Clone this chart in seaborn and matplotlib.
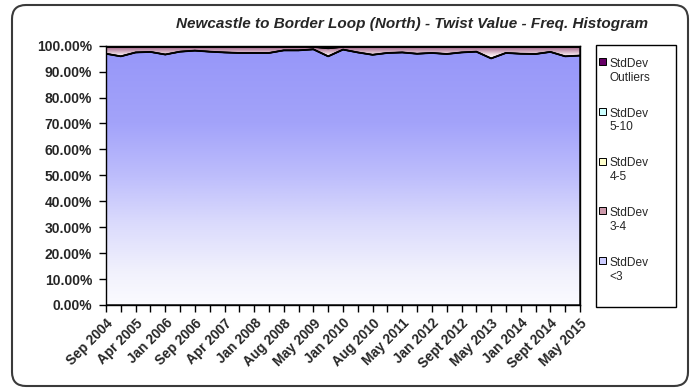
import numpy as np
import pandas as pd
import matplotlib
matplotlib.use("Agg")
import matplotlib.pyplot as plt
import seaborn as sns
from matplotlib.colors import LinearSegmentedColormap
from matplotlib.patches import FancyBboxPatch, Rectangle, Patch
from matplotlib.legend_handler import HandlerPatch

# Share of readings (%) in each standard-deviation band, per survey run
tick_labels = ["Sep 2004", "Apr 2005", "Jan 2006", "Sep 2006", "Apr 2007", "Jan 2008",
               "Aug 2008", "May 2009", "Jan 2010", "Aug 2010", "May 2011", "Jan 2012",
               "Sept 2012", "May 2013", "Jan 2014", "Sept 2014", "May 2015"]

sd_lt3 = [96.9, 95.9, 97.4, 97.6, 96.6, 97.7, 98.1, 97.7, 97.4, 97.2, 97.2, 97.2,
          98.2, 98.2, 98.6, 95.9, 98.5, 97.4, 96.5, 97.2, 97.4, 96.9, 97.2, 96.8,
          97.4, 97.7, 95.1, 97.2, 96.9, 96.8, 97.6, 95.9, 96.2]
sd_3_4 = [2.65, 3.60, 2.15, 1.95, 2.95, 1.85, 1.45, 1.85, 2.15, 2.35, 2.35, 2.35,
          1.35, 1.35, 0.95, 3.10, 1.05, 2.15, 3.05, 2.35, 2.15, 2.65, 2.35, 2.75,
          2.15, 1.85, 4.45, 2.35, 2.65, 2.75, 1.95, 3.65, 3.35]
sd_4_5 = [0.25] * 15 + [0.45] + [0.25] * 17
sd_5_10 = [0.12] * 15 + [0.35] + [0.12] * 17
sd_outliers = [0.08] * 15 + [0.20] + [0.08] * 17

series_names = ["StdDev\n<3", "StdDev\n3-4", "StdDev\n4-5", "StdDev\n5-10", "StdDev\nOutliers"]

df = pd.DataFrame({
    "run": np.arange(len(sd_lt3)),
    series_names[0]: sd_lt3,
    series_names[1]: sd_3_4,
    series_names[2]: sd_4_5,
    series_names[3]: sd_5_10,
    series_names[4]: sd_outliers,
})

sns.set_theme(style="white")
plt.rcParams["font.family"] = ["Liberation Sans", "DejaVu Sans"]

W, H = 692, 390
fig = plt.figure(figsize=(W / 100, H / 100), dpi=100)

# rounded chart-area frame and the legend box, in pixel coordinates
bg = fig.add_axes([0, 0, 1, 1], zorder=-5)
bg.set_xlim(0, W)
bg.set_ylim(H, 0)
bg.axis("off")
bg.add_patch(FancyBboxPatch((12, 5), 676, 381, boxstyle="round,pad=0,rounding_size=14",
                            fc="white", ec="#3a3a3a", lw=1.5))
bg.add_patch(Rectangle((596, 45), 80, 262, fc="white", ec="black", lw=1.0))

ax = fig.add_axes([106 / W, 1 - 305 / H, (580 - 106) / W, (305 - 45.7) / H])
ax.set_facecolor("none")

x = df["run"].to_numpy()
cols = series_names
polys = ax.stackplot(x, *[df[c].to_numpy() for c in cols],
                     colors=["none"] * 5, edgecolor="black", linewidth=1.0, zorder=3)

grads = [
    LinearSegmentedColormap.from_list("lt3", [(0.0, "#FBFBFF"), (0.12, "#F2F2FD"),
                                              (0.32, "#DADAFC"), (0.5, "#BDBDFC"),
                                              (0.7, "#A3A3FA"), (1.0, "#9696F9")]),
    LinearSegmentedColormap.from_list("s34", [(0.0, "#FFFFFF"), (0.35, "#F2E0E8"),
                                              (1.0, "#97527A")]),
    LinearSegmentedColormap.from_list("s45", ["#FFFFEE", "#E8E8C8"]),
    LinearSegmentedColormap.from_list("s510", ["#F0FFFF", "#C8D8D8"]),
    LinearSegmentedColormap.from_list("out", ["#803080", "#660066"]),
]
ranges = [(0, 100), (95.0, 100), (98.5, 100), (98.5, 100), (99, 100)]
grad = np.linspace(0, 1, 256).reshape(-1, 1)
for poly, cmap, (y0, y1) in zip(polys, grads, ranges):
    im = ax.imshow(grad, cmap=cmap, origin="lower", aspect="auto",
                   extent=[x[0], x[-1], y0, y1], zorder=2, interpolation="bilinear")
    im.set_clip_path(poly.get_paths()[0], ax.transData)

# series boundaries
cum = df[cols].cumsum(axis=1)
for c in cols[:-1]:
    sns.lineplot(x=x, y=cum[c].to_numpy(), ax=ax, color="black", lw=1.3, zorder=4)

ax.set_xlim(x[0], x[-1])
ax.set_ylim(0, 100)
ax.set_yticks(np.arange(0, 101, 10))
ax.set_yticklabels([f"{v:.2f}%" for v in np.arange(0, 101, 10)],
                   fontsize=10, fontweight="bold")
ax.set_xticks(x)
xl = [""] * len(x)
for k, lab in enumerate(tick_labels):
    xl[2 * k] = lab
ax.set_xticklabels(xl, rotation=45, ha="right", rotation_mode="anchor",
                   fontsize=9.8, fontweight="bold")
ax.tick_params(axis="y", direction="out", length=5, width=1, color="black",
               left=True, pad=5)
ax.tick_params(axis="x", direction="out", length=5, width=1, color="black",
               bottom=True, pad=3)
for s in ax.spines.values():
    s.set_color("black")
    s.set_linewidth(1.0)
ax.set_xlabel("")
ax.set_ylabel("")

fig.text(412 / W, 1 - 24 / H,
         "Newcastle to Border Loop (North) - Twist Value - Freq. Histogram",
         ha="center", va="center", fontsize=11, fontweight="bold", fontstyle="italic")

# legend, markers aligned with the first text line
class TopSquare(HandlerPatch):
    def create_artists(self, legend, orig_handle, xdescent, ydescent, width, height,
                       fontsize, trans):
        s = 0.6 * fontsize
        r = Rectangle((-xdescent, -ydescent + 0.8 * fontsize), s, s,
                      facecolor=orig_handle.get_facecolor(), edgecolor="black", lw=0.7,
                      transform=trans)
        return [r]

leg_colors = ["#CCCCFF", "#CC99AA", "#FFFFCC", "#CCFFFF", "#660066"]
handles = [Patch(facecolor=c, edgecolor="black") for c in leg_colors][::-1]
labels = cols[::-1]
leg = fig.legend(handles, labels, handler_map={Patch: TopSquare()},
                 loc="upper left", bbox_to_anchor=(599 / W, 1 - 58 / H),
                 fontsize=8.6, frameon=False,
                 handlelength=0.6, handleheight=0.6, handletextpad=0.3,
                 labelspacing=2.0, borderpad=0, borderaxespad=0)

fig.savefig("out.png", dpi=100)
